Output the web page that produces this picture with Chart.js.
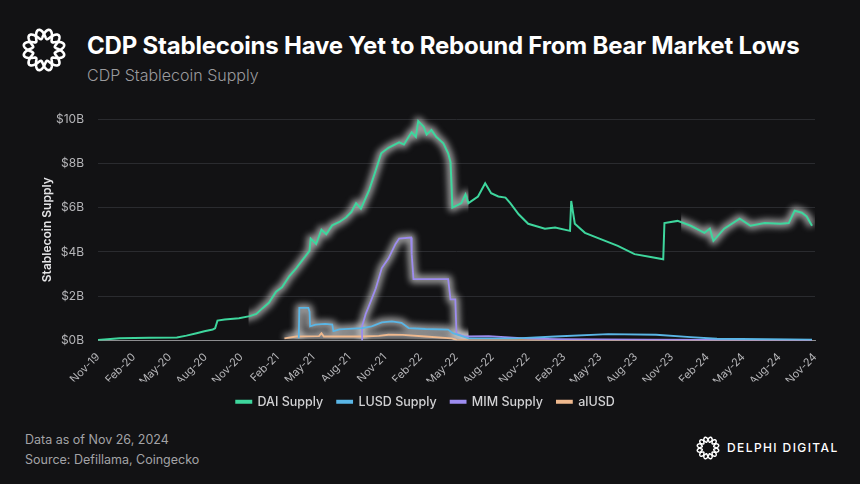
<!DOCTYPE html>
<html>
<head>
<meta charset="utf-8">
<script src="https://cdn.jsdelivr.net/npm/chart.js@4.4.1/dist/chart.umd.min.js"></script>
<style>
  html, body { margin: 0; padding: 0; background: #121214; }
  body { width: 860px; height: 484px; position: relative; overflow: hidden; font-family: Inter, "Noto Sans", sans-serif; }
  #logo { position: absolute; left: 20px; top: 26px; }
  #title { position: absolute; left: 87px; top: 31px; color: #fff; font-size: 24px; font-weight: 700; letter-spacing: -0.2px; }
  #subtitle { position: absolute; left: 87px; top: 65px; color: #9b9b9e; font-size: 16px; font-weight: 300; }
  #wrap { position: absolute; left: 0; top: 95px; width: 860px; height: 330px; }
  .foot { position: absolute; left: 25px; color: #a3a3a6; font-size: 12.5px; }
  #brandlogo { position: absolute; left: 695px; top: 435px; }
  #brand { position: absolute; left: 727px; top: 440px; color: #fff; font-size: 12px; letter-spacing: 1.4px; font-weight: 500; }
</style>
</head>
<body>
<canvas id="logo" width="48" height="48"></canvas>
<div id="title">CDP Stablecoins Have Yet to Rebound From Bear Market Lows</div>
<div id="subtitle">CDP Stablecoin Supply</div>
<div id="wrap"><canvas id="chart"></canvas></div>
<div class="foot" style="top:432px">Data as of Nov 26, 2024</div>
<div class="foot" style="top:452px">Source: Defillama, Coingecko</div>
<canvas id="brandlogo" width="26" height="26"></canvas>
<div id="brand">DELPHI DIGITAL</div>
<script>
// x values are months since Nov-19, y values are $B
const xLabels = ['Nov-19','Feb-20','May-20','Aug-20','Nov-20','Feb-21','May-21','Aug-21','Nov-21',
  'Feb-22','May-22','Aug-22','Nov-22','Feb-23','May-23','Aug-23','Nov-23','Feb-24','May-24','Aug-24','Nov-24'];
const yTicks = [0, 2, 4, 6, 8, 10];

const daiSupply = [
  [0,0.02],[1.8,0.1],[4.3,0.12],[6.6,0.14],[7.4,0.22],[8.25,0.33],[8.9,0.42],[9.6,0.5],[9.8,0.55],
  [10.0,0.9],[10.6,0.95],[11.8,1.0],[12.7,1.1],[13.25,1.2],[13.75,1.45],[14.3,1.7],[14.9,2.2],
  [15.4,2.4],[16.0,2.9],[16.6,3.27],[17.2,3.7],[17.7,4.05],[17.8,4.6],[18.25,4.36],[18.7,5.0],
  [19.1,4.8],[19.6,5.2],[20.2,5.35],[20.75,5.55],[21.2,5.8],[21.6,6.2],[22.0,5.95],[22.7,6.8],
  [23.25,7.7],[23.7,8.45],[24.3,8.7],[25.2,8.95],[25.6,8.85],[26.0,9.2],[26.25,9.4],[26.6,9.2],
  [26.8,9.9],[27.25,9.65],[27.5,9.3],[27.9,9.5],[28.3,9.2],[28.9,8.9],[29.3,8.45],[29.5,8.05],
  [29.6,6.8],[29.65,6.0],[30.4,6.2],[30.75,6.6],[31.0,6.2],[31.8,6.5],[32.4,7.1],[32.9,6.65],
  [33.5,6.5],[34.1,6.45],[34.5,6.2],[35.2,5.7],[36.0,5.27],[37.4,5.05],[38.25,5.1],[39.5,4.95],
  [39.6,6.3],[39.9,5.27],[40.75,4.86],[41.8,4.63],[43.5,4.27],[44.9,3.9],[46.25,3.77],[47.3,3.67],
  [47.4,5.3],[48.5,5.4],[49.6,5.18],[50.75,4.86],[51.2,5.05],[51.5,4.5],[52.4,5.05],[53.7,5.5],
  [54.6,5.18],[55.8,5.3],[57.1,5.27],[57.8,5.3],[58.3,5.86],[58.9,5.77],[59.3,5.6],[59.75,5.18]
];
const lusdSupply = [
  [16.8,0.1],[16.85,1.47],[17.6,1.47],[17.7,1.3],[17.75,0.64],[18.2,0.72],[19.0,0.75],[19.6,0.72],
  [19.7,0.42],[20.2,0.5],[22.1,0.56],[22.9,0.64],[23.75,0.82],[24.6,0.86],[25.4,0.8],[26.0,0.56],
  [27.4,0.52],[29.3,0.49],[29.7,0.33],[30.4,0.21],[31.0,0.1],[35.0,0.1],[38.25,0.18],[42.7,0.29],
  [46.7,0.26],[49.6,0.15],[51.8,0.08],[57.9,0.05],[59.75,0.04]
];
const mimSupply = [
  [22.1,0],[22.1,0.64],[22.4,1.2],[22.7,1.6],[23.25,2.36],[23.75,3.27],[24.3,3.7],[24.9,4.36],
  [25.2,4.6],[26.2,4.65],[26.25,3.9],[26.4,2.77],[29.3,2.77],[29.5,1.86],[29.9,1.86],[30.0,0.3],
  [30.75,0.18],[32.7,0.2],[35.75,0.1],[38.5,0.06],[46,0.04],[59.75,0.02]
];
const alusdSupply = [
  [15.6,0.1],[16.6,0.18],[18.5,0.2],[18.7,0.33],[18.9,0.18],[22.1,0.18],[23.5,0.21],[24.3,0.26],
  [25.5,0.25],[27.4,0.18],[29.6,0.1],[30.0,0.03],[40,0.02],[59.75,0.01]
];
// months where each line carries a soft halo in the original
const glowRanges = [
  [[12.6, 31], [48.8, 60]],
  [[12.6, 31]],
  [[12.6, 31]],
  [[12.6, 31]]
];

function toPoints(arr) { return arr.map(p => ({ x: p[0], y: p[1] })); }

function drawKnot(canvas, r, w) {
  const c = canvas.getContext('2d');
  const cx = canvas.width / 2, cy = canvas.height / 2;
  c.strokeStyle = '#fff';
  c.lineWidth = w;
  for (let k = 0; k < 2; k++) {
    c.beginPath();
    for (let i = 0; i <= 360; i++) {
      const t = i * Math.PI / 180;
      const rr = r + (k ? -1 : 1) * r * 0.3 * Math.sin(6 * t);
      const px = cx + rr * Math.cos(t), py = cy + rr * Math.sin(t);
      if (i === 0) c.moveTo(px, py); else c.lineTo(px, py);
    }
    c.stroke();
  }
}
drawKnot(document.getElementById('logo'), 16, 2.6);
drawKnot(document.getElementById('brandlogo'), 8.5, 1.5);

const glowPlugin = {
  id: 'glow',
  beforeDatasetsDraw(chart) {
    const ctx = chart.ctx;
    const xs = chart.scales.x;
    const area = chart.chartArea;
    chart.getSortedVisibleDatasetMetas().forEach(meta => {
      glowRanges[meta.index].forEach(([a, b]) => {
        const x0 = xs.getPixelForValue(a), x1 = xs.getPixelForValue(b);
        ctx.save();
        ctx.beginPath();
        ctx.rect(x0, area.top - 15, x1 - x0, area.bottom - area.top + 14);
        ctx.clip();
        ctx.filter = 'blur(3px)';
        ctx.strokeStyle = 'rgba(215,215,215,0.7)';
        ctx.lineWidth = 8;
        ctx.lineJoin = 'round';
        ctx.beginPath();
        meta.data.forEach((pt, i) => (i ? ctx.lineTo(pt.x, pt.y) : ctx.moveTo(pt.x, pt.y)));
        ctx.stroke();
        ctx.restore();
      });
    });
  }
};

const colors = ['#3ed69d', '#5ab6e6', '#9d8cf0', '#efb98e'];
const names = ['DAI Supply', 'LUSD Supply', 'MIM Supply', 'alUSD'];
const series = [daiSupply, lusdSupply, mimSupply, alusdSupply];

new Chart(document.getElementById('chart'), {
  type: 'line',
  data: {
    datasets: series.map((s, i) => ({
      label: names[i],
      data: toPoints(s),
      borderColor: colors[i],
      backgroundColor: colors[i],
      borderWidth: i === 0 ? 2 : 1.8,
      pointRadius: 0,
      tension: 0
    }))
  },
  options: {
    responsive: true,
    maintainAspectRatio: false,
    animation: false,
    layout: { padding: { top: 24, left: 36, right: 45, bottom: 7 } },
    plugins: {
      tooltip: { enabled: false },
      legend: {
        position: 'bottom',
        labels: {
          color: '#d2d2d4',
          font: { family: 'Inter', size: 12.5, weight: 500 },
          boxWidth: 15,
          boxHeight: 2,
          padding: 14
        }
      }
    },
    scales: {
      x: {
        type: 'linear',
        min: 0,
        max: 60,
        grid: { display: false },
        border: { display: true, color: '#8d8d90', width: 1 },
        ticks: {
          stepSize: 3,
          autoSkip: false,
          maxRotation: 45,
          minRotation: 45,
          color: '#b5b5b8',
          font: { family: 'Inter', size: 11 },
          padding: 2,
          callback: v => xLabels[v / 3]
        },
        afterFit: s => { s.height = 41; }
      },
      y: {
        min: 0,
        max: 10,
        afterBuildTicks: s => { s.ticks = yTicks.map(v => ({ value: v })); },
        grid: { color: '#2a2b2f', drawTicks: false },
        border: { display: false },
        ticks: {
          color: '#b5b5b8',
          font: { family: 'Inter', size: 12 },
          padding: 14,
          callback: v => '$' + v + 'B'
        },
        title: {
          display: true,
          text: 'Stablecoin Supply',
          color: '#e4e4e6',
          font: { family: 'Inter', size: 12, weight: 600 },
          padding: { top: 4, bottom: 0 }
        },
        afterFit: s => { s.width = 62; }
      }
    }
  },
  plugins: [glowPlugin]
});
</script>
</body>
</html>
